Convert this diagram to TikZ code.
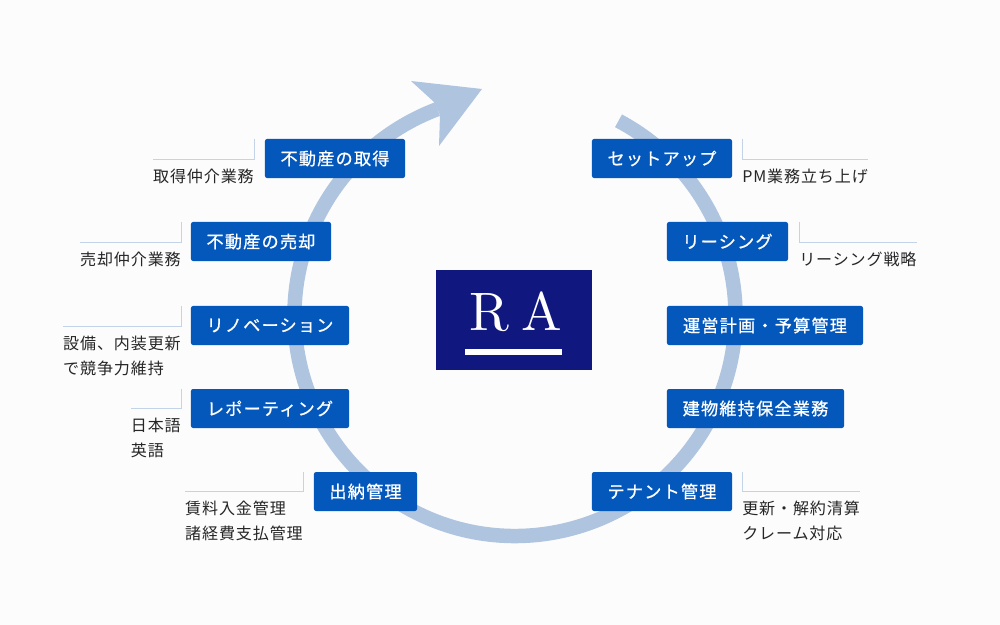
\documentclass[tikz,border=0pt]{standalone}
\usepackage{fontspec}
\newfontfamily\jpsub[LetterSpace=5.5]{Noto Sans CJK JP}
\newfontfamily\jpbox[LetterSpace=7,FakeBold=0.7]{Noto Sans CJK JP}
\newfontfamily\rafont{lmroman10-regular.otf}
\definecolor{pagebg}{HTML}{FCFCFD}
\definecolor{ringblue}{HTML}{AFC4DF}
\definecolor{boxblue}{HTML}{0558BB}
\definecolor{navy}{HTML}{10187F}
\definecolor{leaderblue}{HTML}{C3D3E8}
\begin{document}
\begin{tikzpicture}[x=0.025cm,y=0.025cm,
  boxnode/.style={fill=boxblue,rounded corners=1.5pt,text=white,inner sep=0pt,minimum height=0.975cm,font=\jpbox\fontsize{12.2}{14}\selectfont},
  subleft/.style={anchor=north east,align=left,inner xsep=0pt,inner ysep=6.8pt,font=\jpsub\fontsize{11.4}{17.8}\selectfont,text=black!85},
  subright/.style={subleft,anchor=north west},
  leader/.style={draw=leaderblue,line width=0.7pt}]

\fill [pagebg](0,0) rectangle (1000,-625);
\draw [ringblue,line width=10.3pt](618.5,-120.8) arc [start angle=62,end angle=-249.4,radius=220.5];
\fill [ringblue](411,-81) -- (482,-89) -- (439,-146) -- (440,-115) -- (434,-102) -- cycle;

\node [boxnode,minimum width=3.5cm] (take) at (335,-158.5) {不動産の取得};
\node [boxnode,minimum width=3.5cm] (sell) at (261,-241.5) {不動産の売却};
\node [boxnode,minimum width=3.95cm] (reno) at (270,-325.5) {リノベーション};
\node [boxnode,minimum width=3.95cm] (report) at (270,-408.5) {レポーティング};
\node [boxnode,minimum width=2.575cm] (cash) at (365.5,-491.5) {出納管理};
\node [boxnode,minimum width=3.5cm] (setup) at (662,-158.5) {セットアップ};
\node [boxnode,minimum width=3.025cm] (lease) at (727.5,-241.5) {リーシング};
\node [boxnode,minimum width=4.9cm] (plan) at (765,-325.5) {運営計画・予算管理};
\node [boxnode,minimum width=4.425cm] (keep) at (755.5,-408.5) {建物維持保全業務};
\node [boxnode,minimum width=3.5cm] (tenant) at (662,-491.5) {テナント管理};

\node [subleft] (takesub) at (254,-159) {取得仲介業務};
\node [subleft] (sellsub) at (181,-242) {売却仲介業務};
\node [subleft] (renosub) at (181,-326) {設備、内装更新\\で競争力維持};
\node [subleft] (reportsub) at (181,-408) {日本語\\英語};
\node [subleft] (cashsub) at (303,-491) {賃料入金管理\\諸経費支払管理};
\node [subright] (setupsub) at (742,-159) {PM業務立ち上げ};
\node [subright] (leasesub) at (799,-242) {リーシング戦略};
\node [subright] (tenantsub) at (742,-491) {更新・解約清算\\クレーム対応};

\draw [leader](takesub.north east |- take.north) -- (takesub.north east) -- (takesub.north west);
\draw [leader](sellsub.north east |- sell.north) -- (sellsub.north east) -- (sellsub.north west);
\draw [leader](renosub.north east |- reno.north) -- (renosub.north east) -- (renosub.north west);
\draw [leader](reportsub.north east |- report.north) -- (reportsub.north east) -- (reportsub.north west);
\draw [leader](cashsub.north east |- cash.north) -- (cashsub.north east) -- (cashsub.north west);
\draw [leader](setupsub.north west |- setup.north) -- (setupsub.north west) -- (setupsub.north east);
\draw [leader](leasesub.north west |- lease.north) -- (leasesub.north west) -- (leasesub.north east);
\draw [leader](tenantsub.north west |- tenant.north) -- (tenantsub.north west) -- (tenantsub.north east);

\fill [navy](436,-270) rectangle (592,-370);
\node [text=white,font=\rafont\fontsize{38.5}{40}\selectfont] (ra) at (516,-311.5) {R\hspace{9pt}A};
\fill [white](465,-349) rectangle (562,-355);
\end{tikzpicture}
\end{document}
